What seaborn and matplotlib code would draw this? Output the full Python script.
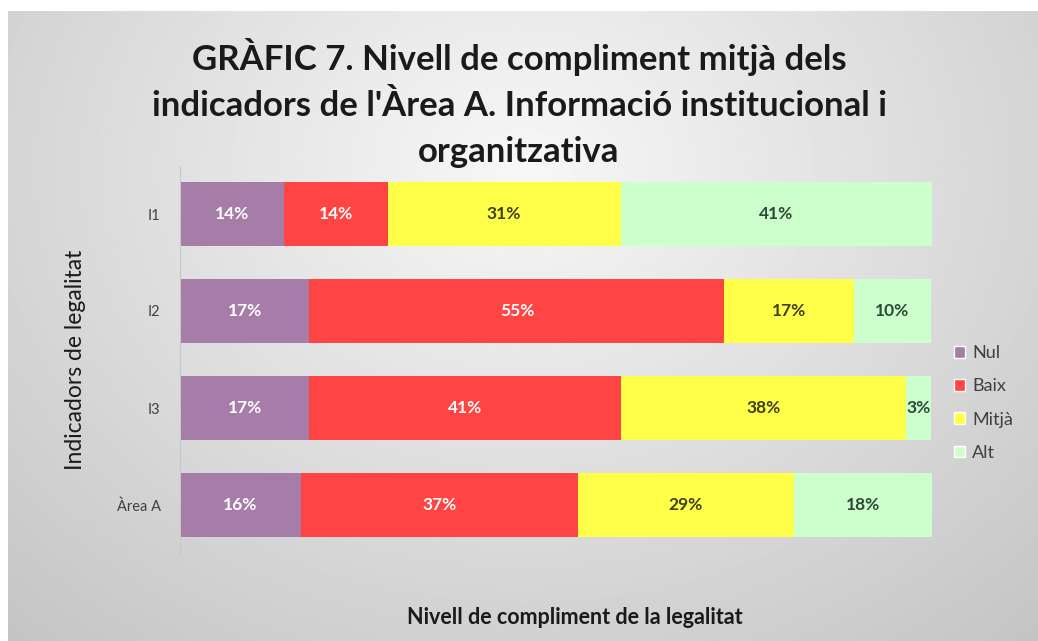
import numpy as np
import pandas as pd
import seaborn as sns
import matplotlib.pyplot as plt
from matplotlib.patches import Patch

indicators = ["I1", "I2", "I3", "Àrea A"]
levels = ["Nul", "Baix", "Mitjà", "Alt"]
nul = [13.8, 17.2, 17.2, 16.1]
baix = [13.8, 55.2, 41.4, 36.8]
mitja = [31.0, 17.2, 37.9, 28.7]
alt = [41.4, 10.3, 3.4, 18.4]

colors = ["#a67ca8", "#ff4444", "#ffff4a", "#ccffcc"]
label_colors = ["white", "white", "#404018", "#2d4a38"]

sns.set_style("white")
plt.rcParams["font.family"] = ["Lato", "DejaVu Sans"]

fig = plt.figure(figsize=(10.38, 6.41), dpi=100)
fig.patch.set_facecolor("white")

# radial grey background like the spreadsheet chart area
bg = fig.add_axes([8 / 1038, 0, 1 - 8 / 1038, 1 - 11 / 641], zorder=-5)
yy, xx = np.mgrid[0:1:300j, 0:1:500j]
r = np.sqrt(((xx - 0.5) / 0.75) ** 2 + ((yy - 0.25) / 1.0) ** 2)
grad = 0.97 - 0.2 * np.clip(r, 0, 1)
bg.imshow(grad, cmap="gray", vmin=0, vmax=1, aspect="auto",
          extent=(0, 1, 1, 0), interpolation="bilinear")
bg.axis("off")

ax = fig.add_axes([180 / 1038, 1 - 553.5 / 641, 752 / 1038, 388 / 641])
ax.patch.set_alpha(0)

df = pd.DataFrame({"ind": indicators, "Nul": nul, "Baix": baix,
                   "Mitjà": mitja, "Alt": alt})
cum = df[levels].cumsum(axis=1)

# stacked: draw the longest cumulative first
for lvl, col in reversed(list(zip(levels, colors))):
    sns.barplot(data=cum.assign(ind=indicators), x=lvl, y="ind",
                orient="h", color=col, saturation=1, width=0.66,
                errorbar=None, ax=ax, linewidth=0)

for lvl, lc in zip(levels, label_colors):
    for i, v in enumerate(df[lvl]):
        mid = cum[lvl][i] - v / 2
        ax.text(mid, i, f"{round(v):.0f}%", ha="center", va="center",
                color=lc, fontsize=12.5, fontweight="bold")

ax.set_xlim(0, 100)
ax.set_xlabel("")
ax.set_ylabel("")
ax.set_xticks([])
ax.tick_params(axis="y", length=0, labelsize=10.5, labelcolor="#404040", pad=14)
for s in ["top", "right", "bottom"]:
    ax.spines[s].set_visible(False)
ax.spines["left"].set_color("#c8c8c8")

handles = [Patch(facecolor=c, label=l) for l, c in zip(levels, colors)]
fig.legend(handles=handles, loc="center left",
           bbox_to_anchor=(938 / 1038, 1 - 403 / 641), frameon=False,
           fontsize=13, handlelength=0.6, handleheight=0.6,
           handletextpad=0.4, labelspacing=0.95, labelcolor="#404040")

fig.text(519 / 1038, 1 - 103 / 641,
         "GRÀFIC 7. Nivell de compliment mitjà dels\n"
         "indicadors de l'Àrea A. Informació institucional i\n"
         "organitzativa",
         ha="center", va="center", fontsize=25, fontweight="bold",
         color="#1a1a1a", linespacing=1.52)
fig.text(575 / 1038, 1 - 617 / 641, "Nivell de compliment de la legalitat",
         ha="center", va="center", fontsize=15.5, fontweight="bold",
         color="#1a1a1a")
fig.text(75 / 1038, 1 - 360 / 641, "Indicadors de legalitat",
         ha="center", va="center", rotation=90, fontsize=16.5,
         color="#1a1a1a")

fig.savefig("out.png", dpi=100)
